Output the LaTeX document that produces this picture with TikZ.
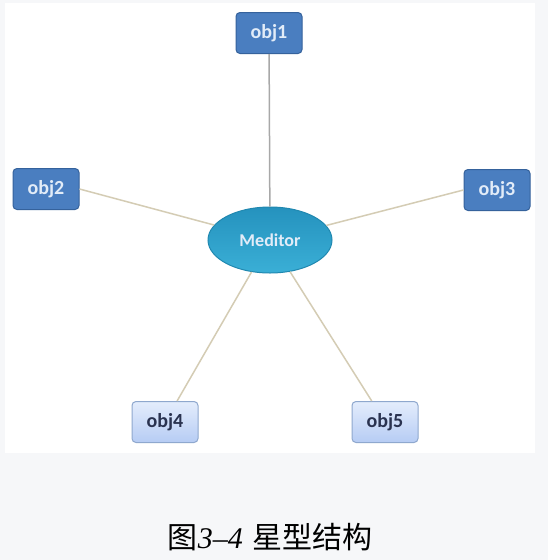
\documentclass[tikz,border=0pt]{standalone}
\usepackage{fontspec}
\usetikzlibrary{shapes.geometric}
\setsansfont{Carlito}
\newfontfamily\cjk{Noto Sans CJK SC}
\newfontfamily\capnum{Liberation Serif}
\definecolor{pagegray}{HTML}{F6F7F9}
\definecolor{darkfill}{HTML}{4A7EC0}
\definecolor{darkedge}{HTML}{35629C}
\definecolor{darktext}{HTML}{E2ECF8}
\definecolor{lighttop}{HTML}{E4EDFC}
\definecolor{lightbot}{HTML}{B6CCF4}
\definecolor{lightedge}{HTML}{8FA8CE}
\definecolor{lighttext}{HTML}{2A3350}
\definecolor{medtop}{HTML}{2592BE}
\definecolor{medbot}{HTML}{3AAFD6}
\definecolor{mededge}{HTML}{2088B0}
\definecolor{linkgray}{HTML}{A8A8A8}
\definecolor{linktan}{HTML}{D4CCB4}
\begin{document}
\begin{tikzpicture}[x=1pt,y=-1pt,
  darkobj/.style={draw=darkedge,fill=darkfill,rounded corners=4pt,line width=1pt,
    minimum width=66pt,minimum height=41pt,text=darktext,
    font=\sffamily\bfseries\fontsize{20}{20}\selectfont},
  lightobj/.style={draw=lightedge,top color=lighttop,bottom color=lightbot,rounded corners=4pt,
    line width=1pt,minimum width=66pt,minimum height=41pt,text=lighttext,
    font=\sffamily\bfseries\fontsize{20}{20}\selectfont},
  link/.style={draw=linktan,line width=1.5pt}]
  \useasboundingbox (0,0) rectangle (548,560);
  \fill[pagegray] (0,0) rectangle (548,560);
  \fill[white] (5,3) rectangle (535,453);
  \node[ellipse,draw=mededge,top color=medtop,bottom color=medbot,line width=1pt,
    minimum width=124pt,minimum height=66pt,inner sep=1pt,text=darktext,
    font=\sffamily\bfseries\fontsize{18}{18}\selectfont] (med) at (270,240) {Meditor};
  \node[darkobj] (obj1) at (269,33) {obj1};
  \node[darkobj] (obj2) at (46,189) {obj2};
  \node[darkobj] (obj3) at (497,190) {obj3};
  \node[lightobj] (obj4) at (165,422) {obj4};
  \node[lightobj] (obj5) at (385,422) {obj5};
  \draw[link,draw=linkgray] (obj1) -- (med);
  \draw[link] (obj2.east) -- (med);
  \draw[link] (obj3.west) -- (med);
  \draw[link] (obj4) -- (med);
  \draw[link] (obj5) -- (med);
  \node[font=\fontsize{30}{30}\selectfont] (cap) at (270,537)
    {{\cjk 图}{\capnum\itshape 3–4} {\cjk 星型结构}};
\end{tikzpicture}
\end{document}
